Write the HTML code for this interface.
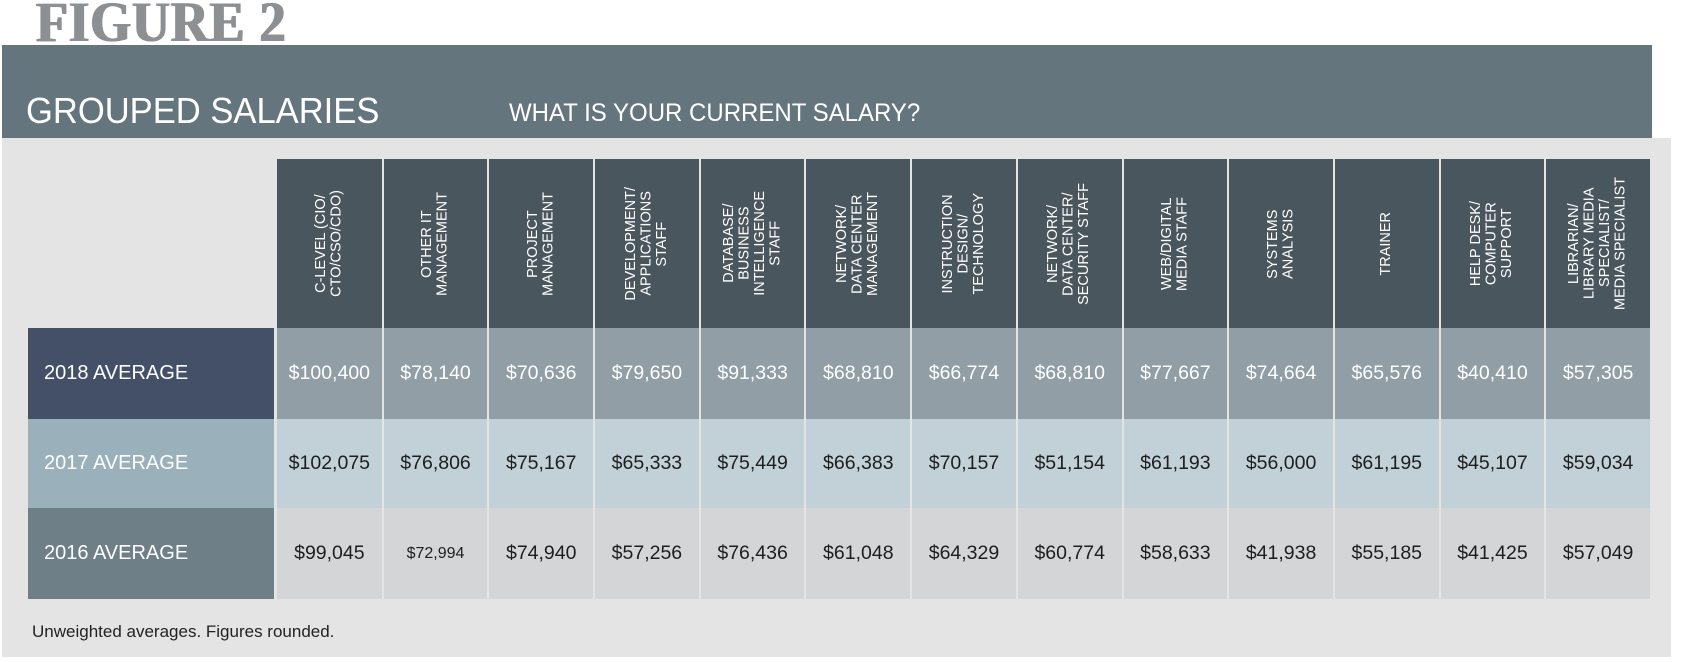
<!DOCTYPE html>
<html><head><meta charset="utf-8">
<style>
*{margin:0;padding:0;box-sizing:border-box}
body{width:1688px;height:662px;background:#fff;position:relative;overflow:hidden;font-family:"Liberation Sans",sans-serif}
.abs{position:absolute}
#fig{left:36px;top:-10px;font-family:"Liberation Serif",serif;font-weight:bold;font-size:57px;line-height:66px;color:#8d9093;letter-spacing:1px;transform:scaleX(0.92);transform-origin:left top;text-shadow:1px 0 0 #8d9093,-1px 0 0 #8d9093}
#band{left:2px;top:45px;width:1650px;height:93px;background:#65757d}
#panel{left:2px;top:138px;width:1669px;height:519px;background:#e4e4e4}
#title{left:26px;top:90px;font-size:36px;color:#fff;white-space:nowrap;transform:scaleX(0.96);transform-origin:left top}
#subtitle{left:509px;top:99px;font-size:25px;color:#fff;white-space:nowrap;transform:scaleX(0.96);transform-origin:left top}
.hcell{background:#4a565e;color:#fff;display:flex;align-items:center;justify-content:center}
.hcell span{writing-mode:vertical-rl;transform:rotate(180deg);font-size:14.5px;line-height:15.5px;text-align:center}
.cell{display:flex;align-items:center;justify-content:center;font-size:19.5px}
.rlabel{display:flex;align-items:center;padding-left:16px;color:#fff;font-size:20px}
#note{left:32px;top:622px;font-size:17px;color:#222}
</style></head><body>
<div id="fig" class="abs">FIGURE 2</div>
<div id="band" class="abs"></div>
<div id="panel" class="abs"></div>
<div id="title" class="abs">GROUPED SALARIES</div>
<div id="subtitle" class="abs">WHAT IS YOUR CURRENT SALARY?</div>
<div id="table"></div>
<div id="note" class="abs">Unweighted averages. Figures rounded.</div>
<script>
const categories=["C-LEVEL (CIO/<br>CTO/CSO/CDO)","OTHER IT<br>MANAGEMENT","PROJECT<br>MANAGEMENT","DEVELOPMENT/<br>APPLICATIONS<br>STAFF","DATABASE/<br>BUSINESS<br>INTELLIGENCE<br>STAFF","NETWORK/<br>DATA CENTER<br>MANAGEMENT","INSTRUCTION<br>DESIGN/<br>TECHNOLOGY","NETWORK/<br>DATA CENTER/<br>SECURITY STAFF","WEB/DIGITAL<br>MEDIA STAFF","SYSTEMS<br>ANALYSIS","TRAINER","HELP DESK/<br>COMPUTER<br>SUPPORT","LIBRARIAN/<br>LIBRARY MEDIA<br>SPECIALIST/<br>MEDIA SPECIALIST"];
const rowLabels=["2018 AVERAGE","2017 AVERAGE","2016 AVERAGE"];
const values2018=[100400,78140,70636,79650,91333,68810,66774,68810,77667,74664,65576,40410,57305];
const values2017=[102075,76806,75167,65333,75449,66383,70157,51154,61193,56000,61195,45107,59034];
const values2016=[99045,72994,74940,57256,76436,61048,64329,60774,58633,41938,55185,41425,57049];
const series=[values2018,values2017,values2016];
const rowStyles=[{lab:"#435068",cell:"#919ea6",txt:"#fff"},{lab:"#9ab0bb",cell:"#c2d1d8",txt:"#1e1e1e"},{lab:"#6f7f88",cell:"#d3d5d6",txt:"#1e1e1e"}];
const tbl=document.getElementById('table');
const x0=277,colW=(1651-277)/13,hTop=159,hBot=328,rowY=[328,419,508,599];
function mk(cls,l,t,w,h){const d=document.createElement('div');d.className='abs '+cls;d.style.left=l+'px';d.style.top=t+'px';d.style.width=w+'px';d.style.height=h+'px';tbl.appendChild(d);return d;}
categories.forEach((c,i)=>{
  const d=mk('hcell',x0+i*colW+(i?1:0),hTop,colW-(i?2:1),hBot-hTop);
  
  
  d.innerHTML='<span>'+c+'</span>';
});
series.forEach((vals,r)=>{
  const st=rowStyles[r];
  const y=rowY[r],h=rowY[r+1]-rowY[r];
  const lab=mk('rlabel',28,y,246,h);
  lab.style.background=st.lab;
  lab.textContent=rowLabels[r];
  
  
  vals.forEach((v,i)=>{
    const d=mk('cell',x0+i*colW+(i?1:0),y,colW-(i?2:1),h);
    d.style.background=st.cell;d.style.color=st.txt;
    d.textContent='$'+v.toLocaleString('en-US');
    if(r===2&&i===1)d.style.fontSize='16px';
    
    
  });
});
</script>
</body></html>
